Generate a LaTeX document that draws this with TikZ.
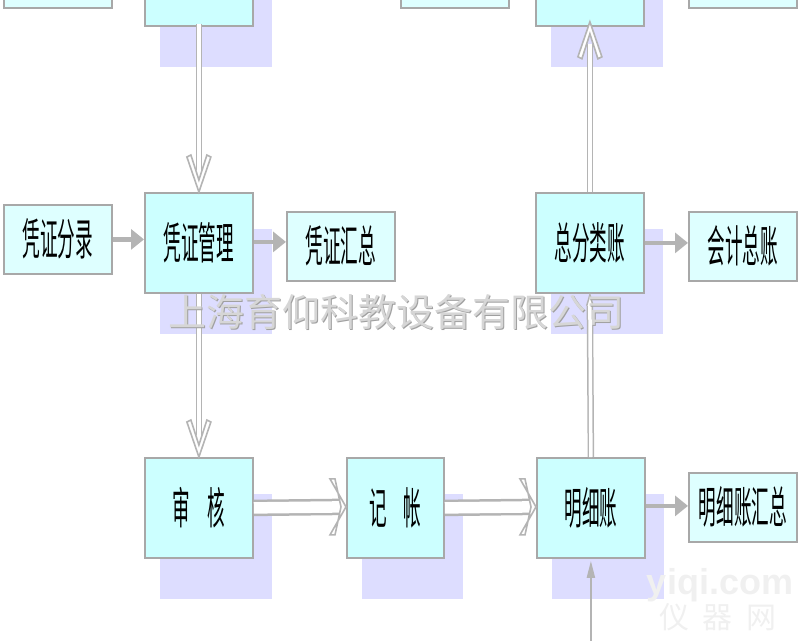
\documentclass[tikz,border=0pt]{standalone}
\usepackage{fontspec}
\newfontfamily\boxfont[FakeStretch=0.40]{Noto Sans CJK SC}
\newfontfamily\wmfont{Noto Sans CJK SC}
\newfontfamily\yqfont{Liberation Sans}
\usetikzlibrary{arrows.meta,calc,backgrounds}
\definecolor{boxA}{HTML}{CCFFFF}
\definecolor{boxB}{HTML}{DEFFFF}
\definecolor{shadowc}{HTML}{DDDDFF}
\definecolor{edge}{HTML}{A8A8A8}
\definecolor{arr}{HTML}{B4B4B4}
\definecolor{wmmain}{HTML}{D6D6D6}
\definecolor{wmshadow}{HTML}{A0A0A0}
\definecolor{yq}{HTML}{F0F0F0}
\newcommand{\boxtxt}[1]{\raisebox{4pt}{#1}}
\begin{document}
\begin{tikzpicture}[x=1pt,y=-1pt,
  basebox/.style={draw=edge, line width=1.8pt, inner sep=0pt, anchor=north west,
    font=\boxfont\fontsize{44}{44}\selectfont},
  big/.style={basebox, fill=boxA, minimum width=108pt, minimum height=100pt},
  small/.style={basebox, fill=boxB, minimum width=108pt, minimum height=69pt},
  garrow/.style={draw=arr, line width=4.5pt, -{Triangle[length=13pt,width=20pt]}},
  tarrow/.style={draw=arr, line width=2pt, -{Triangle[length=17pt,width=8pt]}},
  vshaft/.style={draw=arr, line width=1.5pt, double=white, double distance=3.5pt},
  hshaft/.style={draw=arr, line width=2.5pt, double=white, double distance=11.5pt},
  chev/.style={draw=arr, fill=white, line width=1.6pt, line join=miter},
  capline/.style={draw=arr, fill=white, line width=1.5pt, line join=miter},
  hchev/.pic={\path[chev] (0,0) -- (-16,-28) -- (-11,-28) -- (-5,0) -- (-11,28) -- (-16,28) -- cycle;},
  dchev/.pic={\path[chev] (0,0) -- (-12,-35) -- (-8,-37) -- (0,-12) -- (8,-37) -- (12,-35) -- cycle;},
  uchev/.pic={\path[chev] (0,0) -- (-12,35) -- (-8,37) -- (0,12) -- (8,37) -- (12,35) -- cycle;},
  wm/.style={inner sep=0pt, font=\wmfont\fontsize{38}{38}\selectfont},
]
\useasboundingbox (0,0) rectangle (800,640);
\clip (0,0) rectangle (800,640);

% boxes
\node[small] (t1) at (3,-62) {};
\node[big]   (t2) at (144,-75) {};
\node[small] (t3) at (400,-62) {};
\node[big]   (t4) at (535,-75) {};
\node[small] (t5) at (688,-62) {};

\node[small] (pzfl) at (3,204)   {\boxtxt{凭证分录}};
\node[big]   (pzgl) at (144,192) {\boxtxt{凭证管理}};
\node[small] (pzhz) at (286,211) {\boxtxt{凭证汇总}};
\node[big]   (zflz) at (535,192) {\boxtxt{总分类账}};
\node[small] (kjzz) at (688,211) {\boxtxt{会计总账}};

\node[big] (sh)  at (144,457) {\boxtxt{审\hskip17pt 核}};
\node[big, minimum width=97pt] (jz) at (346,457) {\boxtxt{记\hskip17pt 帐}};
\node[big] (mxz) at (536,457) {\boxtxt{明细账}};
\node[small] (mxhz) at (688,472) {\boxtxt{明细账汇总}};

% shadows
\begin{scope}[on background layer]
\foreach \b in {t2,t4,pzgl,zflz,sh,jz,mxz}
  \fill[shadowc] ($(\b.north west)+(16,37)$) rectangle ($(\b.south east)+(18,40)$);
\end{scope}

% gray arrows
\draw[garrow] (pzfl.east) -- (pzfl.east -| pzgl.west);
\draw[garrow] ([shift={(0,-1)}]pzgl.east) -- ([shift={(0,-1)}]pzgl.east -| pzhz.west);
\draw[garrow] (zflz.east) -- (zflz.east -| kjzz.west);
\draw[garrow] ([shift={(0,-2)}]mxz.east) -- ([shift={(0,-2)}]mxz.east -| mxhz.west);

\coordinate (bot) at ($(mxz.south)+(0,100)$);
\draw[tarrow] (bot) -- ([shift={(0,2)}]mxz.south);

% double arrows
\draw[vshaft] ([shift={(0,-3)}]t2.south) -- ([shift={(0,-22)}]pzgl.north);
\pic at (pzgl.north) {dchev};
\draw[vshaft] (pzgl.south) -- ([shift={(0,-22)}]sh.north);
\pic at (sh.north) {dchev};

\draw[hshaft] (sh.east) -- ([shift={(-6,-1)}]jz.west);
\pic at ([shift={(0,-1)}]jz.west) {hchev};
\draw[hshaft] (jz.east) -- ([shift={(-6,-1)}]mxz.west);
\pic at ([shift={(0,-1)}]mxz.west) {hchev};

\draw[vshaft] (zflz.north) -- ([shift={(0,17)}]t4.south);
\pic at ([shift={(0,-5)}]t4.south) {uchev};

\draw[vshaft] (mxz.north) -- ([shift={(0,12)}]zflz.south);
\path[capline] ([shift={(-3.2,12)}]zflz.south) -- ([shift={(0,1)}]zflz.south) -- ([shift={(3.2,12)}]zflz.south);

% watermarks
\node[wm, text=wmshadow] (wmS) at (397.2,313.2) {上海育仰科教设备有限公司};
\node[wm, text=wmmain]   (wmA) at (396,312)     {上海育仰科教设备有限公司};
\node[inner sep=0pt, text=yq, font=\yqfont\bfseries\fontsize{36}{36}\selectfont] (yq1) at (720,585) {yiqi.com};
\node[inner sep=0pt, text=yq, font=\wmfont\fontsize{30}{30}\selectfont] (yq2) at (718,617) {仪\hskip14pt 器\hskip14pt 网};
\end{tikzpicture}
\end{document}
